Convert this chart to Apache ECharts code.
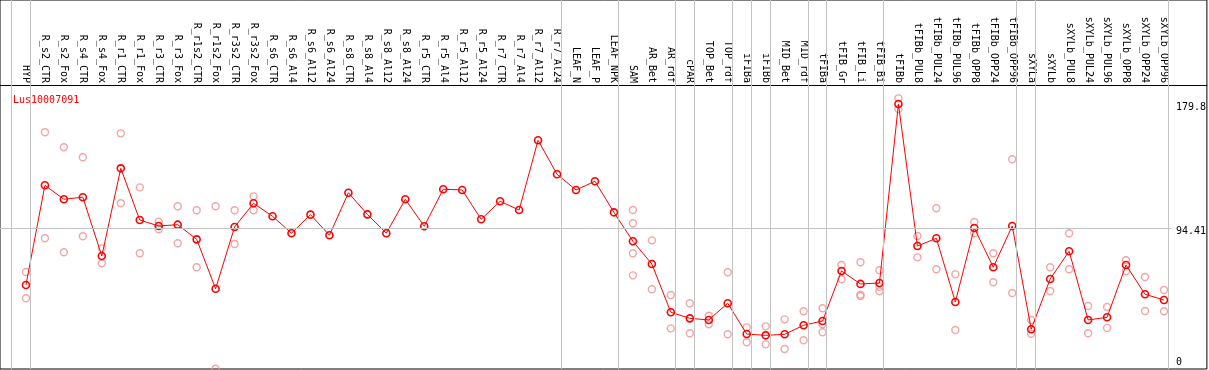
<!DOCTYPE html>
<html><head><meta charset="utf-8">
<script src="https://cdn.jsdelivr.net/npm/echarts@6/dist/echarts.min.js"></script>
<style>html,body{margin:0;padding:0;background:#fff}#c{width:1209px;height:370px}</style>
</head><body><div id="c"></div>
<script>
const geneName = 'Lus10007091';
const categories = ['HYP','R_s2_CTR','R_s2_Fox','R_s4_CTR','R_s4_Fox','R_r1_CTR','R_r1_Fox','R_r3_CTR','R_r3_Fox','R_r1s2_CTR','R_r1s2_Fox','R_r3s2_CTR','R_r3s2_Fox','R_s6_CTR','R_s6_Al4','R_s6_Al12','R_s6_Al24','R_s8_CTR','R_s8_Al4','R_s8_Al12','R_s8_Al24','R_r5_CTR','R_r5_Al4','R_r5_Al12','R_r5_Al24','R_r7_CTR','R_r7_Al4','R_r7_Al12','R_r7_Al24','LEAF_N','LEAF_P','LEAF_NPK','SAM','AR_Bet','AR_rdf','cPAR','TOP_Bet','TOP_rdf','iFIBa','iFIBb','MID_Bet','MID_rdf','tFIBa','tFIB_Gr','tFIB_Li','tFIB_Bi','tFIBb','tFIBb_PUL8','tFIBb_PUL24','tFIBb_PUL96','tFIBb_OPP8','tFIBb_OPP24','tFIBb_OPP96','sXYLa','sXYLb','sXYLb_PUL8','sXYLb_PUL24','sXYLb_PUL96','sXYLb_OPP8','sXYLb_OPP24','sXYLb_OPP96'];
const meanValues = [55.2,123.8,114.2,115.6,75.1,135.5,99.9,95.8,96.7,86.6,52.6,95.1,111.4,102.5,90.8,103.6,89.4,118.7,103.8,90.8,114.2,95.6,121.1,120.6,100.4,112.8,106.8,154.8,131.4,120.6,126.6,105.2,85.3,69.6,36.4,32.2,31.1,42.6,21.4,20.5,21.2,27.4,30.4,64.8,55.9,56.5,179.8,82.0,87.3,43.5,94.4,67.4,95.8,24.7,59.3,78.4,31.1,32.9,68.9,48.8,44.8];
const replicateValues = [
  [64.1,46.0],[160.3,87.3],[150.0,77.7],[143.1,88.7],[80.4,70.1],[159.6,111.4],[122.4,77.0],[98.8,93.5],[109.4,83.9],[106.6,67.4],[109.4,-2.5],[106.6,83.4],[116.2,106.6],
  [],[],[],[],[],[],[],[],[],[],[],[],[],[],[],[],[],[],[],
  [106.8,97.7,77.0,61.8],[85.9,52.2],[48.3,25.3],[42.6,21.9],[34.0,28.1],[63.9,21.2],[26.0,15.7],[26.7,14.3],[31.5,11.1],[37.1,17.1],[39.1,28.1,22.6],[68.9,59.1],[70.8,48.5,47.6],[65.3,54.0,50.8],
  [183.7,176.4],[88.9,74.2],[108.0,66.0],[62.5,24.2],[98.5,90.8],[77.0,57.0],[141.7,49.7],
  [31.1,21.6],[67.4,51.0],[90.8,66.0],[40.7,21.9],[40.0,25.6],[72.2,64.8],[60.7,37.3],[51.7,37.1]
];
const yTickValues = [0, 94.41, 179.8];
const gridLineValue = 94.41;
const groupEnds = [-1, 0, 28, 31, 34, 35, 37, 38, 39, 41, 42, 45, 52, 53, 60];

const XMIN = -26/19, XMAX = 1183/19;
const YMAX = 365.1/1.4522, YMIN = (365.1-369)/1.4522;
const FONT = 'DejaVu Sans Mono';

const meanData = meanValues.map((v, i) => [i, v]);
const repData = [];
replicateValues.forEach((arr, i) => arr.forEach(v => repData.push([i, v])));

const chart = echarts.init(document.getElementById('c'), null, {renderer: 'canvas'});
chart.setOption({
  animation: false,
  backgroundColor: '#fff',
  title: {
    text: geneName, left: 8, top: 90,
    textStyle: {color: '#ff0000', fontFamily: FONT, fontSize: 10, fontWeight: 'normal'}
  },
  grid: {left: 0, right: 0, top: 0, bottom: 1, show: true, borderColor: '#000', borderWidth: 1},
  xAxis: {
    type: 'value', position: 'top', offset: -85, min: XMIN, max: XMAX,
    axisLine: {show: true, onZero: false, lineStyle: {color: '#000', width: 1}},
    axisTick: {show: false}, splitLine: {show: false},
    axisLabel: {
      customValues: categories.map((_, i) => i),
      formatter: v => categories[Math.round(v)] || '',
      rotate: 90, margin: 2, color: '#000', fontFamily: FONT, fontSize: 10
    }
  },
  yAxis: {
    type: 'value', position: 'right', min: YMIN, max: YMAX,
    axisLine: {show: false}, axisTick: {show: false}, splitLine: {show: false},
    axisLabel: {
      customValues: yTickValues, inside: true, align: 'left', margin: 31,
      color: '#000', fontFamily: FONT, fontSize: 10,
      formatter: v => (v === 0 ? '{b|0}' : '{t|' + v + '}'),
      rich: {
        t: {fontFamily: FONT, fontSize: 10, color: '#000', padding: [7, 0, 0, 0]},
        b: {fontFamily: FONT, fontSize: 10, color: '#000', padding: [0, 0, 6, 0]}
      }
    }
  },
  series: [
    {
      type: 'scatter', data: repData, symbol: 'circle', symbolSize: 7, z: 2,
      itemStyle: {color: 'rgba(0,0,0,0)', borderColor: '#ef8e8e', borderWidth: 1.4},
      silent: true,
      markLine: {
        silent: true, symbol: ['none', 'none'], label: {show: false},
        lineStyle: {color: '#c3c3c3', width: 1, type: 'solid'},
        data: groupEnds.map(g => ({xAxis: g + 0.22}))
          .concat([[{coord: [XMIN, gridLineValue]}, {coord: [60.4, gridLineValue]}]])
      }
    },
    {
      type: 'line', data: meanData, symbol: 'circle', symbolSize: 7, z: 3,
      lineStyle: {color: '#ff0000', width: 1},
      itemStyle: {color: 'rgba(0,0,0,0)', borderColor: '#ff0000', borderWidth: 1.6},
      silent: true
    }
  ]
});
</script></body></html>
